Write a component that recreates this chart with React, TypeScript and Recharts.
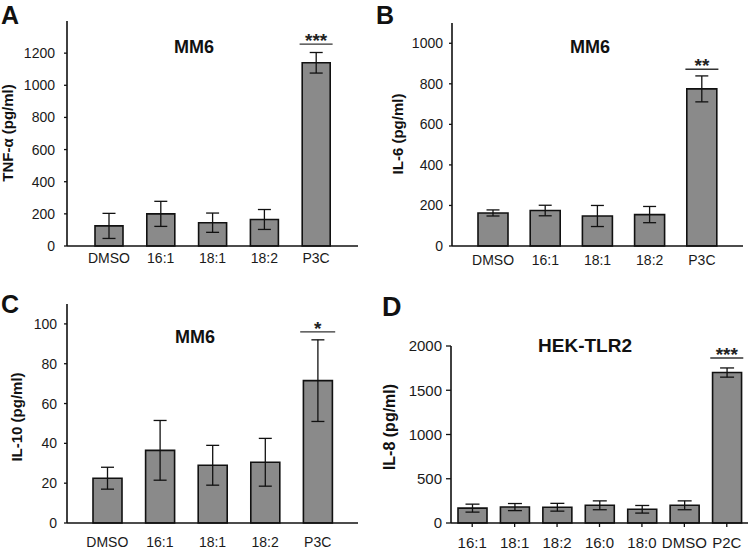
import React from 'react';
import { BarChart, Bar, XAxis, YAxis, ErrorBar, ReferenceDot } from 'recharts';

const FONT = '"Liberation Sans", Arial, Helvetica, sans-serif';

// MM6 cells (panels A-C)
const mm6Groups = ['DMSO', '16:1', '18:1', '18:2', 'P3C'];
const tnfMean = [125, 200, 145, 165, 1140];
const tnfErr = [78, 78, 60, 62, 64];
const tnfTicks = [0, 200, 400, 600, 800, 1000, 1200];

const il6Mean = [163, 175, 148, 155, 775];
const il6Err = [15, 26, 52, 40, 64];
const il6Ticks = [0, 200, 400, 600, 800, 1000];

const il10Mean = [22.5, 36.5, 29, 30.5, 71.5];
const il10Err = [5.5, 15, 10, 12, 20.5];
const il10Ticks = [0, 20, 40, 60, 80, 100];

// HEK-TLR2 cells (panel D)
const hekGroups = ['16:1', '18:1', '18:2', '16:0', '18:0', 'DMSO', 'P2C'];
const il8Mean = [168, 180, 178, 200, 155, 200, 1700];
const il8Err = [45, 40, 44, 50, 43, 50, 52];
const il8Ticks = [0, 500, 1000, 1500, 2000];

const toRows = (groups: string[], mean: number[], err: number[]) =>
  groups.map((name, i) => ({ name, value: mean[i], err: err[i] }));

const sigShape = (stars: string, half: number) => (props: any) => {
  const { cx, cy } = props;
  return (
    <g>
      <line x1={cx - half} x2={cx + half} y1={cy} y2={cy} stroke="#333" strokeWidth={1.4} />
      <text x={cx} y={cy + 3} textAnchor="middle" fontSize={19} fontWeight="bold" fontFamily={FONT} fill="#222">
        {stars}
      </text>
    </g>
  );
};

type PanelProps = {
  left: number;
  top: number;
  letter: string;
  letterX: number;
  letterY: number;
  letterSize: number;
  title: string;
  titleX: number;
  titleY: number;
  titleSize: number;
  yLabel: string;
  yLabelX: number;
  yLabelY: number;
  yLabelSize: number;
  rows: { name: string; value: number; err: number }[];
  ticks: number[];
  yMax: number;
  sigAt: string;
  sigY: number;
  stars: string;
  sigHalf: number;
  marginTop: number;
  marginRight: number;
  yWidth: number;
  xHeight: number;
  yTickSize: number;
  yTickMargin: number;
  xTickSize: number;
  xTickMargin: number;
  padLeft: number;
  padRight: number;
  barSize: number;
  capHalf: number;
  tickFont: number;
};

const Panel = (p: PanelProps) => (
  <div style={{ position: 'absolute', left: p.left, top: p.top, width: 375, height: 275 }}>
    <BarChart
      width={375}
      height={275}
      data={p.rows}
      margin={{ top: p.marginTop, right: p.marginRight, bottom: 0, left: 0 }}
    >
      <XAxis
        dataKey="name"
        interval={0}
        height={p.xHeight}
        padding={{ left: p.padLeft, right: p.padRight }}
        axisLine={{ stroke: '#111', strokeWidth: 1.6 }}
        tickLine={p.xTickSize > 0 ? { stroke: '#111', strokeWidth: 1.3 } : false}
        tickSize={p.xTickSize}
        tickMargin={p.xTickMargin}
        tick={{ fontSize: p.tickFont, fill: '#1a1a1a', fontFamily: FONT }}
      />
      <YAxis
        width={p.yWidth}
        domain={[0, p.yMax]}
        ticks={p.ticks}
        interval={0}
        axisLine={{ stroke: '#111', strokeWidth: 1.6 }}
        tickLine={{ stroke: '#111', strokeWidth: 1.3 }}
        tickSize={p.yTickSize}
        tickMargin={p.yTickMargin}
        tick={{ fontSize: p.tickFont, fill: '#1a1a1a', fontFamily: FONT }}
      />
      <Bar
        dataKey="value"
        barSize={p.barSize}
        fill="#8a8a8a"
        stroke="#111"
        strokeWidth={1.6}
        isAnimationActive={false}
      >
        <ErrorBar dataKey="err" width={p.capHalf} stroke="#111" strokeWidth={1.3} isAnimationActive={false} />
      </Bar>
      <ReferenceDot x={p.sigAt} y={p.sigY} r={1} shape={sigShape(p.stars, p.sigHalf)} />
    </BarChart>
    <svg
      width={375}
      height={275}
      style={{ position: 'absolute', left: 0, top: 0, pointerEvents: 'none' }}
      fontFamily={FONT}
    >
      <text x={p.letterX} y={p.letterY} fontSize={p.letterSize} fontWeight="bold" fill="#111">
        {p.letter}
      </text>
      <text x={p.titleX} y={p.titleY} textAnchor="middle" fontSize={p.titleSize} fontWeight="bold" fill="#111">
        {p.title}
      </text>
      <text
        x={p.yLabelX}
        y={p.yLabelY}
        transform={`rotate(-90 ${p.yLabelX} ${p.yLabelY})`}
        textAnchor="middle"
        fontSize={p.yLabelSize}
        fontWeight="bold"
        fill="#111"
      >
        {p.yLabel}
      </text>
    </svg>
  </div>
);

export default function App() {
  return (
    <div style={{ position: 'absolute', left: 0, top: 0, width: 750, height: 550, background: '#fff', overflow: 'hidden' }}>
      <Panel
        left={0}
        top={0}
        letter="A"
        letterX={1}
        letterY={24}
        letterSize={25}
        title="MM6"
        titleX={194}
        titleY={53}
        titleSize={18}
        yLabel="TNF-α (pg/ml)"
        yLabelX={13}
        yLabelY={133}
        yLabelSize={15}
        rows={toRows(mm6Groups, tnfMean, tnfErr)}
        ticks={tnfTicks}
        yMax={1400}
        sigAt="P3C"
        sigY={1256}
        stars="***"
        sigHalf={16.5}
        marginTop={21}
        marginRight={17}
        yWidth={67}
        xHeight={29}
        yTickSize={3}
        yTickMargin={9}
        xTickSize={0}
        xTickMargin={7}
        padLeft={16}
        padRight={16}
        barSize={28}
        capHalf={6.5}
        tickFont={14}
      />
      <Panel
        left={375}
        top={0}
        letter="B"
        letterX={1}
        letterY={24}
        letterSize={25}
        title="MM6"
        titleX={215}
        titleY={53}
        titleSize={18}
        yLabel="IL-6 (pg/ml)"
        yLabelX={28}
        yLabelY={134}
        yLabelSize={15}
        rows={toRows(mm6Groups, il6Mean, il6Err)}
        ticks={il6Ticks}
        yMax={1100}
        sigAt="P3C"
        sigY={872}
        stars="**"
        sigHalf={16.5}
        marginTop={23}
        marginRight={7}
        yWidth={77}
        xHeight={29}
        yTickSize={3}
        yTickMargin={6}
        xTickSize={0}
        xTickMargin={9}
        padLeft={15}
        padRight={15}
        barSize={30}
        capHalf={6.5}
        tickFont={14}
      />
      <Panel
        left={0}
        top={275}
        letter="C"
        letterX={1}
        letterY={38}
        letterSize={25}
        title="MM6"
        titleX={195}
        titleY={68}
        titleSize={18}
        yLabel="IL-10 (pg/ml)"
        yLabelX={22}
        yLabelY={142}
        yLabelSize={15}
        rows={toRows(mm6Groups, il10Mean, il10Err)}
        ticks={il10Ticks}
        yMax={110}
        sigAt="P3C"
        sigY={96}
        stars="*"
        sigHalf={17.5}
        marginTop={29}
        marginRight={17}
        yWidth={67}
        xHeight={27}
        yTickSize={3}
        yTickMargin={7}
        xTickSize={0}
        xTickMargin={14}
        padLeft={14}
        padRight={14}
        barSize={29}
        capHalf={6.5}
        tickFont={14}
      />
      <Panel
        left={375}
        top={275}
        letter="D"
        letterX={7}
        letterY={41}
        letterSize={27}
        title="HEK-TLR2"
        titleX={210}
        titleY={77}
        titleSize={19}
        yLabel="IL-8 (pg/ml)"
        yLabelX={20}
        yLabelY={152}
        yLabelSize={16}
        rows={toRows(hekGroups, il8Mean, il8Err)}
        ticks={il8Ticks}
        yMax={2000}
        sigAt="P2C"
        sigY={1864}
        stars="***"
        sigHalf={16.5}
        marginTop={71}
        marginRight={2}
        yWidth={76}
        xHeight={27}
        yTickSize={5}
        yTickMargin={4}
        xTickSize={4}
        xTickMargin={10}
        padLeft={0}
        padRight={0}
        barSize={29}
        capHalf={7}
        tickFont={15}
      />
    </div>
  );
}
